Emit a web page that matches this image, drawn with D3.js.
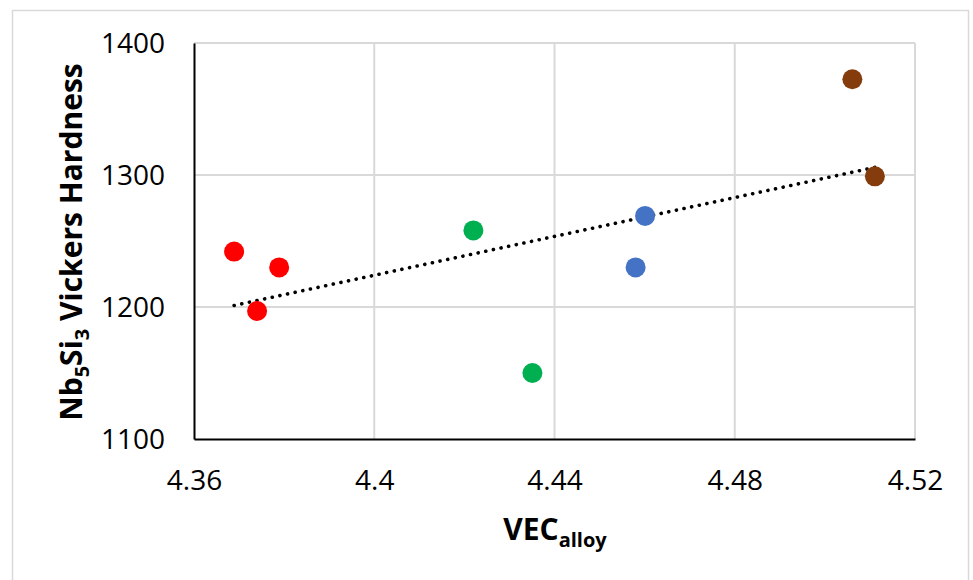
<!DOCTYPE html>
<html>
<head>
<meta charset="utf-8">
<script src="https://cdn.jsdelivr.net/npm/d3@7"></script>
<style>
  body { margin: 0; background: #fff; }
  text { font-family: "Open Sans", Carlito, Calibri, sans-serif; }
</style>
</head>
<body>
<svg id="chart"></svg>
<script>
// data
var groups = ["red", "red", "red", "green", "green", "blue", "blue", "brown", "brown"];
var vec = [4.3689, 4.3789, 4.374, 4.422, 4.4351, 4.4601, 4.458, 4.5061, 4.5111];
var hardness = [1242, 1230, 1197, 1258, 1150, 1269, 1230, 1372.5, 1299];
var xTicks = [4.36, 4.4, 4.44, 4.48, 4.52];
var yTicks = [1100, 1200, 1300, 1400];

var colors = {red: "#FF0000", green: "#00B050", blue: "#4472C4", brown: "#843C0C"};

var W = 973, H = 580;
var margin = {top: 43, right: 58, bottom: 141, left: 194},
  width = W - margin.left - margin.right,
  height = H - margin.top - margin.bottom;

var svg = d3.select("#chart")
  .attr("width", W)
  .attr("height", H);

// outer chart frame
svg.append("rect")
  .attr("x", 12.5).attr("y", 10.5)
  .attr("width", 956).attr("height", 580)
  .attr("fill", "none")
  .attr("stroke", "#d9d9d9")
  .attr("stroke-width", 1.5);

var g = svg.append("g")
  .attr("transform", "translate(" + margin.left + "," + margin.top + ")");

var x = d3.scaleLinear().domain([4.36, 4.52]).range([0, width]);
var y = d3.scaleLinear().domain([1100, 1400]).range([height, 0]);

// gridlines
g.selectAll(".vgrid")
  .data(xTicks.slice(1))
  .enter().append("line")
  .attr("x1", function(d) { return x(d); })
  .attr("x2", function(d) { return x(d); })
  .attr("y1", 0).attr("y2", height)
  .attr("stroke", "#d9d9d9").attr("stroke-width", 2);

g.selectAll(".hgrid")
  .data(yTicks.slice(1))
  .enter().append("line")
  .attr("x1", 0).attr("x2", width)
  .attr("y1", function(d) { return y(d); })
  .attr("y2", function(d) { return y(d); })
  .attr("stroke", "#d9d9d9").attr("stroke-width", 2);

// axes
var xAxis = g.append("g")
  .attr("transform", "translate(0," + height + ")")
  .call(d3.axisBottom(x).tickValues(xTicks).tickSize(0).tickPadding(0)
    .tickFormat(function(d) { return String(+d.toFixed(2)); }));
xAxis.select(".domain").attr("stroke", "#000").attr("stroke-width", 2);
xAxis.selectAll("text")
  .attr("y", 0).attr("dy", 51)
  .attr("fill", "#000")
  .style("font-size", "28px");

var yAxis = g.append("g")
  .call(d3.axisLeft(y).tickValues(yTicks).tickSize(0).tickPadding(0)
    .tickFormat(d3.format("d")));
yAxis.select(".domain").attr("stroke", "#000").attr("stroke-width", 2);
yAxis.selectAll("text")
  .attr("x", -29).attr("dy", "0.35em")
  .attr("fill", "#000")
  .style("font-size", "28px");

// linear trendline (least squares over the points)
var mx = d3.mean(vec), my = d3.mean(hardness);
var sxy = d3.sum(vec, function(v, i) { return (v - mx) * (hardness[i] - my); });
var sxx = d3.sum(vec, function(v) { return (v - mx) * (v - mx); });
var slope = sxy / sxx, icpt = my - slope * mx;
var xMin = d3.min(vec), xMax = d3.max(vec);

g.append("line")
  .attr("x1", x(xMin)).attr("y1", y(slope * xMin + icpt))
  .attr("x2", x(xMax)).attr("y2", y(slope * xMax + icpt))
  .attr("stroke", "#000")
  .attr("stroke-width", 3.6)
  .attr("stroke-linecap", "round")
  .attr("stroke-dasharray", "0.1 7.7");

// points
g.selectAll("circle")
  .data(vec)
  .enter().append("circle")
  .attr("cx", function(d) { return x(d); })
  .attr("cy", function(d, i) { return y(hardness[i]); })
  .attr("r", 10)
  .attr("fill", function(d, i) { return colors[groups[i]]; });

// axis titles
var xt = svg.append("text")
  .attr("x", 555).attr("y", 540)
  .attr("text-anchor", "middle")
  .style("font-size", "30px").style("font-weight", "bold");
xt.append("tspan").text("VEC");
xt.append("tspan").text("alloy").attr("dy", 7).style("font-size", "20px");

var yt = svg.append("text")
  .attr("transform", "translate(82,242) rotate(-90)")
  .attr("text-anchor", "middle")
  .style("font-size", "30px").style("font-weight", "bold");
yt.append("tspan").text("Nb");
yt.append("tspan").text("5").attr("dy", 7).style("font-size", "20px");
yt.append("tspan").text("Si").attr("dy", -7);
yt.append("tspan").text("3").attr("dy", 7).style("font-size", "20px");
yt.append("tspan").text(" Vickers Hardness").attr("dy", -7);
</script>
</body>
</html>
